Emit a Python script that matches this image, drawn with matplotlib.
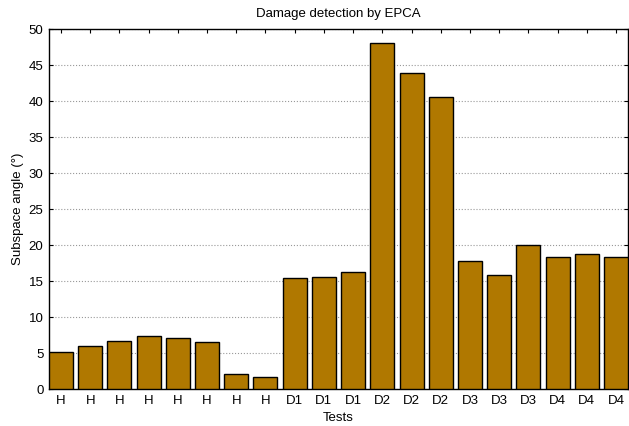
import matplotlib
matplotlib.use('Agg')
import matplotlib.pyplot as plt
import numpy as np

tests = ['H', 'H', 'H', 'H', 'H', 'H', 'H', 'H',
         'D1', 'D1', 'D1', 'D2', 'D2', 'D2',
         'D3', 'D3', 'D3', 'D4', 'D4', 'D4']
angles = [5.1, 6.0, 6.7, 7.3, 7.1, 6.5, 2.1, 1.7,
          15.4, 15.6, 16.3, 48.1, 43.9, 40.5,
          17.8, 15.9, 20.0, 18.4, 18.7, 18.4]

plt.rcParams['font.family'] = ['Liberation Sans', 'DejaVu Sans']

fig = plt.figure(figsize=(6.29, 4.26), dpi=100)
ax = fig.add_axes([49 / 629, 37 / 426, 579 / 629, 360 / 426])

x = np.arange(len(tests))
ax.bar(x, angles, width=0.82, color='#B07800', edgecolor='black',
       linewidth=1.0, zorder=3)

ax.set_xlim(-0.41, len(tests) - 1 + 0.41)
ax.set_ylim(0, 50)
ax.set_yticks(np.arange(0, 51, 5))
ax.set_xticks(x)
ax.set_xticklabels(tests)

ax.yaxis.grid(True, color='#999999', linestyle=':', linewidth=0.8, zorder=0)
ax.set_axisbelow(True)
ax.tick_params(direction='in', length=3, width=0.8, labelsize=9.5,
               top=True, right=True, pad=4)
for s in ax.spines.values():
    s.set_linewidth(1.0)

ax.set_title('Damage detection by EPCA', fontsize=9.5, pad=9)
ax.set_xlabel('Tests', fontsize=9.5, labelpad=4)
ax.set_ylabel('Subspace angle (°)', fontsize=9.5, labelpad=3)

fig.savefig('out.png', dpi=100)
